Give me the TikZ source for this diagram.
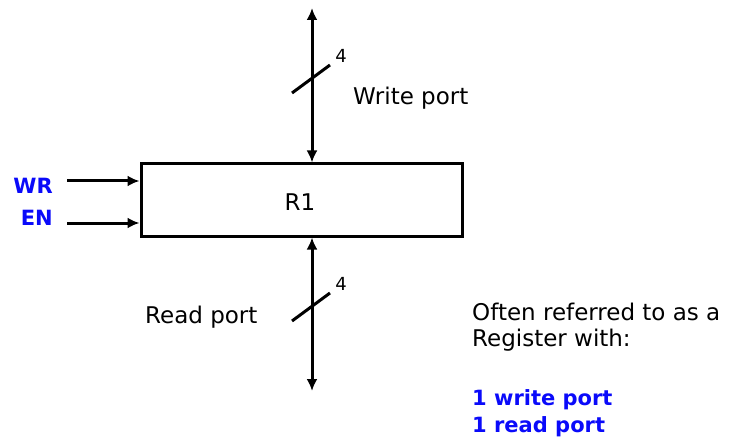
\documentclass[tikz,border=0pt]{standalone}
\usepackage{fontspec}
\setmainfont{DejaVu Sans}
\usetikzlibrary{arrows.meta}
\definecolor{portblue}{RGB}{10,10,250}
\tikzset{
  wire/.style={line width=3pt, {Latex[length=12pt,width=11pt]}-{Latex[length=12pt,width=11pt]}},
  inwire/.style={line width=3pt, -{Latex[length=12pt,width=11pt]}},
  slash/.style={line width=3pt},
  lbl/.style={font=\fontsize{23}{27}\selectfont, inner sep=0pt},
  rlbl/.style={font=\fontsize{23}{27}\selectfont, inner sep=0pt},
  blbl/.style={font=\fontsize{21}{25}\selectfont\bfseries, text=portblue, inner sep=0pt},
  bus/.style={font=\fontsize{18}{21}\selectfont, inner sep=0pt},
  regbox/.style={draw, line width=3pt, minimum width=321pt, minimum height=72pt, inner sep=0pt}
}
\begin{document}
\begin{tikzpicture}[x=1pt,y=-1pt]
\useasboundingbox (0,0) rectangle (734,441);
\node[regbox] (r1) at (301.5,200) {};
\node[rlbl] at (300,202) {R1};
% top write port
\coordinate (wtop) at (312,8);
\draw[wire] (wtop) -- (wtop |- r1.north);
\coordinate (ws1) at (292,93);
\coordinate (ws2) at (330,65);
\draw[slash] (ws1) -- (ws2);
\node[bus] (w4) at (341,56) {4};
\node[lbl, anchor=west] (wp) at (353,98) {Write port};
% bottom read port
\coordinate (rbot) at (312,391);
\draw[wire] (rbot |- r1.south) -- (rbot);
\coordinate (rs1) at (292,321);
\coordinate (rs2) at (330,293);
\draw[slash] (rs1) -- (rs2);
\node[bus] (r4) at (341,284) {4};
\node[lbl, anchor=west] (rp) at (145,317) {Read port};
% inputs
\node[blbl, anchor=east] (wr) at (53,186) {WR};
\node[blbl, anchor=east] (en) at (53,218) {EN};
\coordinate (wrs) at (67,181);
\coordinate (ens) at (67,223);
\draw[inwire] (wrs) -- (wrs -| r1.west);
\draw[inwire] (ens) -- (ens -| r1.west);
% notes
\node[lbl, anchor=west] (n1) at (472,312) {Often referred to as a};
\node[lbl, anchor=west] (n2) at (472,340) {Register with:};
\node[blbl, anchor=west] (n3) at (472,400) {1 write port};
\node[blbl, anchor=west] (n4) at (472,427) {1 read port};
\end{tikzpicture}
\end{document}
